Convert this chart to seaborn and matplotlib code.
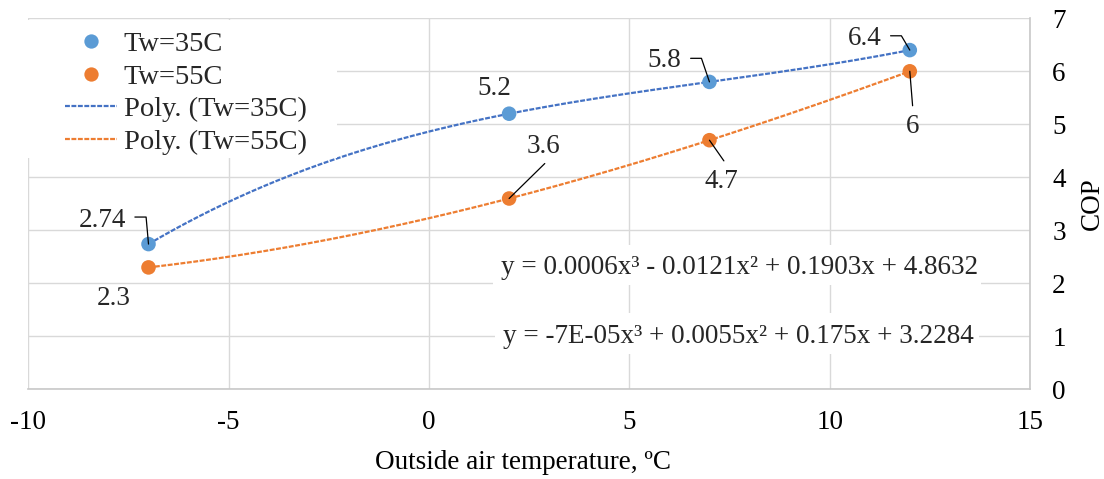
import numpy as np
import pandas as pd
import matplotlib
matplotlib.use("Agg")
import matplotlib.pyplot as plt
import seaborn as sns
from matplotlib.lines import Line2D
from matplotlib.patches import Rectangle

# ---------------- data ----------------
temps = [-7, 2, 7, 12]
cop_35 = [2.74, 5.2, 5.8, 6.4]
cop_55 = [2.3, 3.6, 4.7, 6.0]
series_names = ["Tw=35C", "Tw=55C"]
trend_names = ["Poly. (Tw=35C)", "Poly. (Tw=55C)"]
eq_35 = "y = 0.0006x³ - 0.0121x² + 0.1903x + 4.8632"
eq_55 = "y = -7E-05x³ + 0.0055x² + 0.175x + 3.2284"
x_ticks = [-10, -5, 0, 5, 10, 15]
y_ticks = [0, 1, 2, 3, 4, 5, 6, 7]
x_label = "Outside air temperature, ºC"
y_label = "COP"

# ---------------- style ----------------
sns.set_theme(style="white")
plt.rcParams["font.family"] = ["Liberation Serif", "DejaVu Serif"]
FS = 19.5
LFS = 20.5
marker_cols = ["#5B9BD5", "#ED7D31"]
line_cols = ["#4472C4", "#ED7D31"]
grid_col = "#D9D9D9"
axis_col = "#C8C8C8"

fig = plt.figure(figsize=(11.04, 4.79), dpi=100)
ax = fig.add_axes([28.3 / 1104, 1 - 389.3 / 479, (1030 - 28.3) / 1104, (389.3 - 18.3) / 479])

df = pd.DataFrame({
    "x": temps * 2,
    "cop": cop_35 + cop_55,
    "series": [series_names[0]] * len(temps) + [series_names[1]] * len(temps),
})

# polynomial (cubic) trendlines fitted to the data, like the spreadsheet does
xs = np.linspace(min(temps), max(temps), 300)
trend_frames = []
for name, vals in zip(trend_names, [cop_35, cop_55]):
    coef = np.polyfit(temps, vals, 3)
    trend_frames.append(pd.DataFrame({"x": xs, "cop": np.polyval(coef, xs), "series": name}))
trend_df = pd.concat(trend_frames, ignore_index=True)

sns.lineplot(data=trend_df, x="x", y="cop", hue="series", palette=dict(zip(trend_names, line_cols)),
             ax=ax, legend=False, linewidth=1.6, zorder=3, sort=False)
for ln in ax.lines:
    ln.set_dashes((2.2, 0.7))

sns.scatterplot(data=df, x="x", y="cop", hue="series", palette=dict(zip(series_names, marker_cols)),
                ax=ax, legend=False, s=110, edgecolor="none", linewidth=0, zorder=4)

# ---------------- axes ----------------
ax.set_xlim(-10, 15)
ax.set_ylim(0, 7)
ax.set_xticks(x_ticks)
ax.set_yticks(y_ticks)
ax.set_xticklabels([str(v) for v in x_ticks], fontsize=FS)
ax.set_yticklabels([str(v) for v in y_ticks], fontsize=FS)
ax.yaxis.tick_right()
ax.yaxis.set_label_position("right")
ax.set_axisbelow(True)
ax.grid(True, color=grid_col, linewidth=1.0)
for s in ["left", "top"]:
    ax.spines[s].set_visible(False)
for s in ["bottom", "right"]:
    ax.spines[s].set_visible(True)
    ax.spines[s].set_color(axis_col)
    ax.spines[s].set_linewidth(1.2)
ax.tick_params(axis="x", length=4.5, width=1.2, color=axis_col, pad=10.5, labelcolor="black")
ax.tick_params(axis="y", length=0, pad=16, labelcolor="black")
ax.set_xlabel(x_label, fontsize=FS, color="black", labelpad=10.5)
ax.xaxis.label.set_x(0.494)
ax.set_ylabel(y_label, fontsize=FS, color="black", labelpad=10)

# ---------------- legend ----------------
fig.add_artist(Rectangle((26 / 1104, 1 - 158 / 479), (337 - 26) / 1104, (158 - 20) / 479,
                         transform=fig.transFigure, facecolor="white", edgecolor="none", zorder=1))
handles = [
    Line2D([], [], linestyle="none", marker="o", markersize=10.3, color=marker_cols[0], markeredgewidth=0),
    Line2D([], [], linestyle="none", marker="o", markersize=10.3, color=marker_cols[1], markeredgewidth=0),
    Line2D([], [], color=line_cols[0], linewidth=1.6, dashes=(2.2, 0.7)),
    Line2D([], [], color=line_cols[1], linewidth=1.6, dashes=(2.2, 0.7)),
]
leg = fig.legend(handles, series_names + trend_names, loc="upper left",
                 bbox_to_anchor=(65 / 1104, 1 - 31 / 479), frameon=False, fontsize=LFS,
                 handlelength=52 / (LFS * 100 / 72), handletextpad=0.23, labelspacing=0.24,
                 borderpad=0, borderaxespad=0)
leg.set_zorder(6)

# ---------------- equation boxes ----------------
ax.add_patch(Rectangle((1.6, 1.97), 12.17, 0.75, facecolor="white", edgecolor="none", zorder=2))
ax.add_patch(Rectangle((1.64, 0.67), 12.08, 0.77, facecolor="white", edgecolor="none", zorder=2))
ax.text(1.79, 2.29, eq_35, fontsize=FS, ha="left", va="center", zorder=5)
ax.text(1.84, 0.99, eq_55, fontsize=FS, ha="left", va="center", zorder=5)

# ---------------- data labels with leader lines ----------------
lab_kw = dict(fontsize=FS, ha="center", va="center", zorder=6)
lead_kw = dict(color="black", linewidth=0.9, zorder=5)
# Tw=35C
ax.text(-8.16, 3.19, f"{cop_35[0]:g}", **lab_kw)
ax.plot([-7.34, -7.06, temps[0]], [3.25, 3.25, cop_35[0]], **lead_kw)
ax.text(1.62, 5.68, f"{cop_35[1]:g}", **lab_kw)
ax.text(5.88, 6.21, f"{cop_35[2]:g}", **lab_kw)
ax.plot([6.53, 6.80, temps[2]], [6.245, 6.245, cop_35[2]], **lead_kw)
ax.text(10.88, 6.62, f"{cop_35[3]:g}", **lab_kw)
ax.plot([11.52, 11.79, temps[3]], [6.67, 6.67, cop_35[3]], **lead_kw)
# Tw=55C
ax.text(-7.86, 1.72, f"{cop_55[0]:g}", **lab_kw)
ax.text(2.87, 4.59, f"{cop_55[1]:g}", **lab_kw)
ax.plot([temps[1], 2.89], [cop_55[1], 4.26], **lead_kw)
ax.text(7.30, 3.92, f"{cop_55[2]:g}", **lab_kw)
ax.plot([temps[2], 7.36], [cop_55[2], 4.31], **lead_kw)
ax.text(12.07, 4.95, f"{cop_55[3]:g}", **lab_kw)
ax.plot([temps[3], 12.07], [cop_55[3], 5.35], **lead_kw)

fig.savefig("out.png", dpi=100, facecolor="white")
